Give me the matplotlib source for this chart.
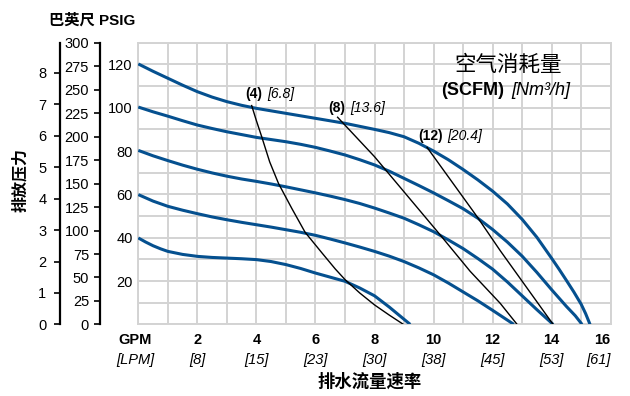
import matplotlib
matplotlib.use('Agg')
import matplotlib.pyplot as plt

MIX = ['Liberation Sans', 'Noto Sans CJK SC', 'DejaVu Sans']
CJK = ['Noto Sans CJK SC', 'DejaVu Sans']
plt.rcParams['font.family'] = MIX

# ---- data (GPM vs PSIG) ----
c120_x = [0, 0.5, 1, 1.5, 2, 2.5, 3, 3.5, 4, 5, 6, 7, 8, 8.5, 9, 9.5, 10, 10.5, 11, 11.5, 12, 12.5, 13,
          13.5, 14, 14.25, 14.5, 14.75, 15, 15.15, 15.3]
c120_y = [120.2, 116.8, 113.6, 110.4, 107.4, 104.9, 102.8, 101.1, 99.7, 97.4, 95.1, 92.8, 90.0, 88.5, 86.6,
          83.6, 80.0, 76.0, 71.5, 66.7, 61.5, 55.6, 48.5, 40.2, 30.5, 25.5, 20.3, 15.0, 9.3, 5.0, 0]
c100_x = [0, 0.5, 1, 1.5, 2, 2.5, 3, 3.5, 4, 4.5, 5, 5.5, 6, 6.5, 7, 7.5, 8, 8.5, 9, 9.5, 10, 10.5, 11,
          11.5, 12, 12.5, 13, 13.5, 14, 14.5, 14.8, 15.03]
c100_y = [100.3, 98.1, 96.1, 94.0, 92.0, 90.4, 88.9, 87.6, 86.3, 85.3, 84.3, 83.1, 81.7, 80.0, 78.2, 76.0,
          73.6, 70.7, 67.4, 64.1, 60.7, 57.1, 53.4, 49.0, 43.8, 38.0, 31.5, 24.0, 16.0, 8.3, 4.0, 0]
c80_x = [0, 0.5, 1, 1.5, 2, 2.5, 3, 3.5, 4, 4.5, 5, 5.5, 6, 6.5, 7, 7.5, 8, 8.5, 9, 9.5, 10, 10.5, 11,
         11.5, 12, 12.5, 13, 13.5, 14.05]
c80_y = [80.3, 77.8, 75.6, 73.5, 71.6, 69.9, 68.4, 67.1, 66.0, 64.8, 63.5, 62.1, 60.7, 59.2, 57.6, 55.8,
         53.7, 51.4, 49.0, 46.0, 42.8, 39.0, 35.0, 30.4, 25.5, 19.6, 13.2, 6.8, 0]
c60_x = [0, 0.5, 1, 1.5, 2, 2.5, 3, 3.5, 4, 4.5, 5, 5.5, 6, 6.5, 7, 7.5, 8, 8.5, 9, 9.5, 10, 10.5, 11,
         11.5, 12, 12.72]
c60_y = [59.9, 56.9, 54.5, 52.7, 51.1, 49.6, 48.3, 47.1, 46.0, 44.9, 43.7, 42.5, 41.1, 39.4, 37.6, 35.7,
         33.7, 31.5, 29.0, 26.1, 22.9, 19.1, 15.0, 10.9, 6.5, 0]
c40_x = [0, 0.25, 0.5, 0.75, 1, 1.5, 2, 2.5, 3, 3.5, 4, 4.5, 5, 5.5, 6, 6.5, 7, 7.5, 8, 8.5, 9.21]
c40_y = [39.9, 38.0, 36.3, 34.9, 33.7, 32.3, 31.4, 30.9, 30.6, 30.3, 29.9, 29.0, 27.6, 25.8, 23.7, 21.8,
         19.9, 16.8, 13.2, 8.0, 0]

air4_x = [3.84, 4.0, 4.18, 4.45, 4.75, 5.2, 5.65, 6.22, 6.67, 7.0, 7.5, 8.0, 8.5, 8.98]
air4_y = [101.0, 94.0, 86.6, 75.0, 65.0, 53.5, 42.5, 33.0, 25.6, 20.7, 14.5, 9.0, 4.3, 0]
air8_x = [6.75, 8.0, 10.17, 11.24, 12.26, 12.83]
air8_y = [95.6, 77.4, 42.2, 24.5, 9.7, 0]
air12_x = [9.78, 11.47, 12.26, 14.05]
air12_y = [81.7, 49.8, 34.0, 0]

gpm_ticks = [2, 4, 6, 8, 10, 12, 14, 16]
lpm_labels = ['[8]', '[15]', '[23]', '[30]', '[38]', '[45]', '[53]', '[61]']
psig_ticks = [20, 40, 60, 80, 100, 120]
bar_ticks = [0, 1, 2, 3, 4, 5, 6, 7, 8]
ft_ticks = [0, 25, 50, 75, 100, 125, 150, 175, 200, 225, 250, 275, 300]

air_labels = [('(4)', '[6.8]', 3.62, 4.36, 106.2),
              ('(8)', '[13.6]', 6.43, 7.18, 99.9),
              ('(12)', '[20.4]', 9.48, 10.46, 87.1)]

BLUE = '#05508f'
GRID = '#d3d3d3'
FS = 10.5

W, H = 630, 396
fig = plt.figure(figsize=(6.3, 3.96), dpi=100)
def fx(px): return px / W
def fy(py): return 1 - py / H

L, R, T, B = 138.3, 610.7, 42.7, 324.4
ax = fig.add_axes([fx(L), fy(B), fx(R) - fx(L), fy(T) - fy(B)])
ax.set_xlim(0, 16)
ax.set_ylim(0, 130)
ax.set_xticks(range(0, 17))
ax.set_yticks(range(0, 131, 10))
ax.set_xticklabels([])
ax.set_yticklabels([str(v) if v in psig_ticks else '' for v in range(0, 131, 10)], fontsize=FS)
ax.tick_params(length=0, pad=4)
ax.grid(True, color=GRID, lw=1.4)
ax.set_axisbelow(True)
for s in ax.spines.values():
    s.set_color(GRID)
    s.set_linewidth(1.4)

for xs, ys in [(c120_x, c120_y), (c100_x, c100_y), (c80_x, c80_y), (c60_x, c60_y), (c40_x, c40_y)]:
    ax.plot(xs, ys, color=BLUE, lw=2.2, solid_capstyle='butt', solid_joinstyle='round', zorder=3)
for xs, ys in [(air4_x, air4_y), (air8_x, air8_y), (air12_x, air12_y)]:
    ax.plot(xs, ys, color='black', lw=1.0, solid_joinstyle='round', zorder=4)

for a, b, xa, xb, yy in air_labels:
    ax.text(xa, yy, a, fontsize=10, fontweight='bold', ha='left', va='center', zorder=5)
    ax.text(xb, yy, b, fontsize=10, fontstyle='italic', ha='left', va='center', zorder=5)

ax.text(12.51, 119.9, '空气消耗量', family=CJK, fontsize=15.5, ha='center', va='center', zorder=5)
ax.text(12.40, 107.9, '(SCFM)', fontsize=13, fontweight='bold', ha='right', va='center', zorder=5)
ax.text(12.62, 107.9, '[Nm³/h]', fontsize=13, fontstyle='italic', ha='left', va='center', zorder=5)

# x tick labels (GPM + LPM)
ax.annotate('GPM', xy=(-0.1, 0), xycoords=('data', 'axes fraction'), xytext=(0, -11.2),
            textcoords='offset points', ha='center', va='center', fontsize=FS, fontweight='bold',
            annotation_clip=False)
ax.annotate('[LPM]', xy=(-0.1, 0), xycoords=('data', 'axes fraction'), xytext=(0, -25.6),
            textcoords='offset points', ha='center', va='center', fontsize=FS, fontstyle='italic',
            annotation_clip=False)
for g, lp in zip(gpm_ticks, lpm_labels):
    ha = 'right' if g == 16 else 'center'
    ax.annotate(str(g), xy=(g, 0), xycoords=('data', 'axes fraction'), xytext=(0, -11.2),
                textcoords='offset points', ha=ha, va='center', fontsize=FS, fontweight='bold',
                annotation_clip=False)
    ax.annotate(lp, xy=(g, 0), xycoords=('data', 'axes fraction'), xytext=(0, -25.6),
                textcoords='offset points', ha=ha, va='center', fontsize=FS, fontstyle='italic',
                annotation_clip=False)

# extra left axes: bar and feet
def side_axis(xpx, top, ticks, pad):
    a = fig.add_axes([fx(xpx), fy(B), 0.0001, fy(T) - fy(B)])
    a.set_facecolor('none')
    for k in ['top', 'right', 'bottom']:
        a.spines[k].set_visible(False)
    a.spines['left'].set_linewidth(1.6)
    a.set_xticks([])
    a.set_ylim(0, top)
    a.set_yticks(ticks)
    a.set_yticklabels([str(t) for t in ticks], fontsize=FS)
    a.tick_params(axis='y', length=4.5, width=1.2, pad=pad, direction='out')
    return a

side_axis(59.5, 130 / 14.5038, bar_ticks, 5)
side_axis(100.2, 130 * 2.31, ft_ticks, 3.5)

fig.text(fx(92.5), fy(20), '巴英尺 PSIG', fontsize=11, fontweight='bold', ha='center', va='center')
fig.text(fx(20), fy(180), '排放压力', fontsize=11.5, fontweight='bold', ha='center', va='center',
         rotation=90, family=CJK)
fig.text(fx(370), fy(381.7), '排水流量速率', fontsize=12.5, fontweight='bold', ha='center', va='center',
         family=CJK)

fig.savefig('out.png', dpi=100)
